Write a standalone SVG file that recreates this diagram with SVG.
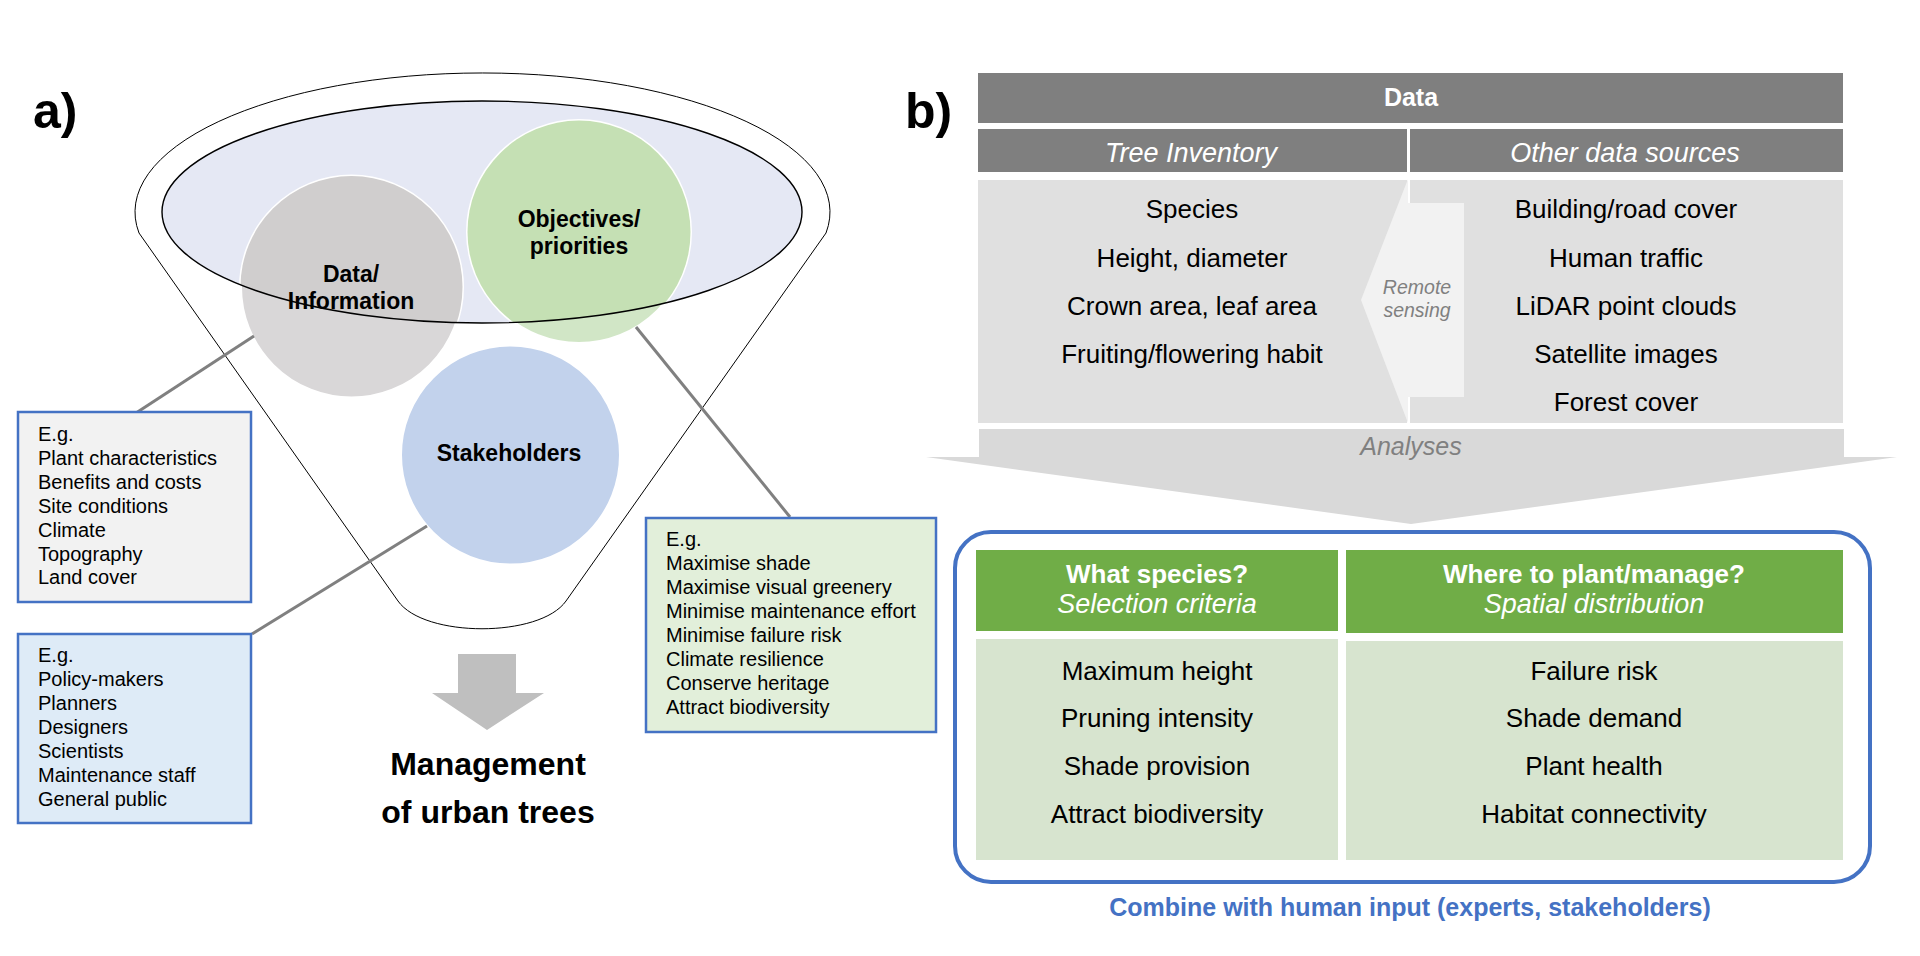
<svg xmlns="http://www.w3.org/2000/svg" width="1920" height="956" viewBox="0 0 1920 956">
<style>
text{font-family:"Liberation Sans",Arial,sans-serif}
.lbl{font-size:50px;font-weight:bold;fill:#000}
.cl{font-size:23px;font-weight:bold;text-anchor:middle;fill:#000}
.bx{font-size:20px;fill:#000}
.box{stroke:#4472C4;stroke-width:2.5}
.con{stroke:#808080;stroke-width:3;fill:none}
.hd{font-size:25px;font-weight:bold;fill:#fff;text-anchor:middle}
.hi{font-size:27px;font-style:italic;fill:#fff;text-anchor:middle}
.bd{font-size:26px;fill:#000;text-anchor:middle}
.gh{font-size:26px;font-weight:bold;fill:#fff;text-anchor:middle}
.gi{font-size:27px;font-style:italic;fill:#fff;text-anchor:middle}
.gr{font-style:italic;fill:#808080;text-anchor:middle}
</style>
<defs>
<clipPath id="inner"><ellipse cx="482" cy="212" rx="320" ry="111"/></clipPath>
</defs>
<rect width="1920" height="956" fill="#fff"/>

<!-- panel labels -->
<text class="lbl" x="33" y="128">a)</text>
<text class="lbl" x="905" y="128">b)</text>

<!-- funnel -->
<g id="funnel">
<ellipse cx="482" cy="212" rx="320" ry="111" fill="#E5E8F4"/>
</g>

<g id="node-data">
<circle cx="351.5" cy="287" r="111" fill="#D9D7D8" stroke="#fff" stroke-width="3"/>
<circle cx="351.5" cy="287" r="111" fill="#D0CECE" clip-path="url(#inner)"/>
</g>
<g id="node-objectives">
<circle cx="579" cy="232" r="111.5" fill="#D1E6C6" stroke="#fff" stroke-width="3"/>
<circle cx="579" cy="232" r="111.5" fill="#C5E0B4" clip-path="url(#inner)"/>
</g>
<g id="node-stakeholders">
<circle cx="510.5" cy="455" r="110" fill="#C2D2EC" stroke="#fff" stroke-width="3"/>
</g>

<g id="funnel-outline" fill="none" stroke="#000">
<ellipse cx="482" cy="212" rx="320" ry="111" stroke-width="1.4"/>
<path d="M139,233 A347.5 139 0 1 1 826,233 L566,601 C540,638 424,638 398,601 Z" stroke-width="1"/>
</g>

<text class="cl" x="351" y="282">Data/</text>
<text class="cl" x="351" y="309">Information</text>
<text class="cl" x="579" y="227">Objectives/</text>
<text class="cl" x="579" y="254">priorities</text>
<text class="cl" x="509" y="461" fill="#262626">Stakeholders</text>

<!-- connectors -->
<g id="connectors">
<line class="con" x1="254" y1="336" x2="136" y2="413"/>
<line class="con" x1="427" y1="526" x2="252" y2="634"/>
<line class="con" x1="636" y1="327" x2="790" y2="517"/>
</g>

<g id="box-data">
<rect class="box" x="18" y="412" width="233" height="190" fill="#F2F2F2"/>
<text class="bx" x="38"><tspan x="38" y="441">E.g.</tspan><tspan x="38" y="465">Plant characteristics</tspan><tspan x="38" y="489">Benefits and costs</tspan><tspan x="38" y="513">Site conditions</tspan><tspan x="38" y="537">Climate</tspan><tspan x="38" y="561">Topography</tspan><tspan x="38" y="584">Land cover</tspan></text>
</g>
<g id="box-stakeholders">
<rect class="box" x="18" y="634" width="233" height="189" fill="#DEEBF7"/>
<text class="bx"><tspan x="38" y="662">E.g.</tspan><tspan x="38" y="686">Policy-makers</tspan><tspan x="38" y="710">Planners</tspan><tspan x="38" y="734">Designers</tspan><tspan x="38" y="758">Scientists</tspan><tspan x="38" y="782">Maintenance staff</tspan><tspan x="38" y="806">General public</tspan></text>
</g>
<g id="box-objectives">
<rect class="box" x="646" y="518" width="290" height="214" fill="#E2EFDA"/>
<text class="bx"><tspan x="666" y="546">E.g.</tspan><tspan x="666" y="570">Maximise shade</tspan><tspan x="666" y="594">Maximise visual greenery</tspan><tspan x="666" y="618">Minimise maintenance effort</tspan><tspan x="666" y="642">Minimise failure risk</tspan><tspan x="666" y="666">Climate resilience</tspan><tspan x="666" y="690">Conserve heritage</tspan><tspan x="666" y="714">Attract biodiversity</tspan></text>
</g>

<g id="management">
<polygon points="458,654 516,654 516,693 544,693 487,730 432,693 458,693" fill="#BFBFBF"/>
<text x="488" y="775" font-size="32" font-weight="bold" text-anchor="middle">Management</text>
<text x="488" y="823" font-size="32" font-weight="bold" text-anchor="middle">of urban trees</text>
</g>

<!-- panel b -->
<g id="data-table">
<rect x="978" y="73" width="865" height="50" fill="#7F7F7F"/>
<text class="hd" x="1411" y="106">Data</text>
<rect x="978" y="129" width="429" height="43" fill="#7F7F7F"/>
<rect x="1410" y="129" width="433" height="43" fill="#7F7F7F"/>
<text class="hi" x="1191" y="162">Tree Inventory</text>
<text class="hi" x="1625" y="162">Other data sources</text>
<rect x="978" y="180" width="429" height="243" fill="#E0E0E0"/>
<rect x="1410" y="180" width="433" height="243" fill="#E0E0E0"/>
</g>
<g id="remote-sensing">
<polygon points="1408,179 1361,300 1408,423 1408,397 1464,397 1464,203 1408,203" fill="#F2F2F2"/>
<text class="gr" font-size="19.5" x="1417" y="294">Remote</text>
<text class="gr" font-size="19.5" x="1417" y="317">sensing</text>
</g>
<g id="data-items">
<text class="bd" x="1192" y="218">Species</text>
<text class="bd" x="1192" y="267">Height, diameter</text>
<text class="bd" x="1192" y="315">Crown area, leaf area</text>
<text class="bd" x="1192" y="363">Fruiting/flowering habit</text>
<text class="bd" x="1626" y="218">Building/road cover</text>
<text class="bd" x="1626" y="267">Human traffic</text>
<text class="bd" x="1626" y="315">LiDAR point clouds</text>
<text class="bd" x="1626" y="363">Satellite images</text>
<text class="bd" x="1626" y="411">Forest cover</text>
</g>

<g id="analyses">
<polygon points="979,429 1844,429 1844,457 1897,457 1411,524 926,457 979,457" fill="#D9D9D9"/>
<text class="gr" font-size="25" x="1411" y="455">Analyses</text>
</g>

<g id="outputs">
<rect x="955" y="532" width="915" height="350" rx="36" ry="36" fill="#fff" stroke="#4472C4" stroke-width="4"/>
<rect x="976" y="550" width="362" height="81" fill="#70AD47"/>
<rect x="1346" y="550" width="497" height="83" fill="#70AD47"/>
<text class="gh" x="1157" y="583">What species?</text>
<text class="gi" x="1157" y="613">Selection criteria</text>
<text class="gh" x="1594" y="583">Where to plant/manage?</text>
<text class="gi" x="1594" y="613">Spatial distribution</text>
<rect x="976" y="639" width="362" height="221" fill="#D7E4CF"/>
<rect x="1346" y="641" width="497" height="219" fill="#D7E4CF"/>
<text class="bd" x="1157" y="680">Maximum height</text>
<text class="bd" x="1157" y="727">Pruning intensity</text>
<text class="bd" x="1157" y="775">Shade provision</text>
<text class="bd" x="1157" y="823">Attract biodiversity</text>
<text class="bd" x="1594" y="680">Failure risk</text>
<text class="bd" x="1594" y="727">Shade demand</text>
<text class="bd" x="1594" y="775">Plant health</text>
<text class="bd" x="1594" y="823">Habitat connectivity</text>
<text x="1410" y="916" font-size="25" font-weight="bold" fill="#4472C4" text-anchor="middle">Combine with human input (experts, stakeholders)</text>
</g>
</svg>
